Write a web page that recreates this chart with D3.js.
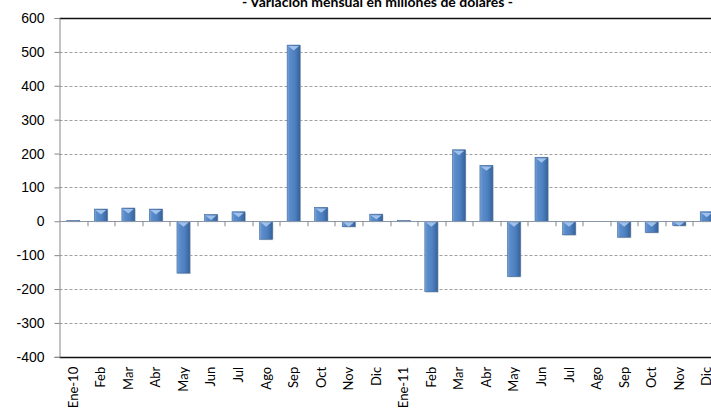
<!DOCTYPE html>
<html>
<head>
<meta charset="utf-8">
<script src="https://cdn.jsdelivr.net/npm/d3@7"></script>
<style>
  body { margin: 0; background: #fff; }
  svg { display: block; font-family: Lato, "Open Sans", sans-serif; }
  .tick text { fill: #000; }
</style>
</head>
<body>
<div id="chart"></div>
<script>
// meses (2010 - 2011)
var labels = ["Ene-10", "Feb", "Mar", "Abr", "May", "Jun", "Jul", "Ago", "Sep", "Oct", "Nov", "Dic",
              "Ene-11", "Feb", "Mar", "Abr", "May", "Jun", "Jul", "Ago", "Sep", "Oct", "Nov", "Dic"];
var values = [2, 36, 39, 36, -153, 20, 28, -53, 520, 41, -16, 21,
              2, -208, 211, 165, -163, 189, -40, 0, -47, -33, -13, 28];
var yTicks = [-400, -300, -200, -100, 0, 100, 200, 300, 400, 500, 600];
var title = "- Variación mensual en millones de dólares -";

drawChart();

function drawChart() {

	var W = 711, H = 412;
	var margin = {top: 18, left: 59.5},
		width = 661,
		height = 338.8;

	var svg = d3.select("#chart").append("svg")
		.attr("width", W)
		.attr("height", H);

	var defs = svg.append("defs");
	var grad = defs.append("linearGradient")
		.attr("id", "barGrad")
		.attr("x1", "0").attr("x2", "1").attr("y1", "0").attr("y2", "0");
	grad.append("stop").attr("offset", "0").attr("stop-color", "#7ea8dc");
	grad.append("stop").attr("offset", "0.18").attr("stop-color", "#5b8ccb");
	grad.append("stop").attr("offset", "0.6").attr("stop-color", "#4e80bf");
	grad.append("stop").attr("offset", "1").attr("stop-color", "#34629c");

	var x = d3.scaleBand()
		.domain(d3.range(labels.length))
		.range([0, width])
		.paddingInner(0.53)
		.paddingOuter(0.265);

	var y = d3.scaleLinear()
		.domain([-400, 600])
		.range([height, 0]);

	var g = svg.append("g")
		.attr("transform", "translate(" + margin.left + "," + margin.top + ")");

	// lineas de division
	g.append("g")
		.selectAll("line")
		.data(yTicks.filter(function(d) { return d != 0 && d != 600 && d != -400; }))
		.enter().append("line")
		.attr("x1", 0).attr("x2", width)
		.attr("y1", function(d) { return Math.round(y(d)) + 0.5; })
		.attr("y2", function(d) { return Math.round(y(d)) + 0.5; })
		.attr("stroke", "#a0a0a0")
		.attr("stroke-dasharray", "3,2");

	// borde superior e inferior
	g.append("line")
		.attr("x1", 0).attr("x2", width)
		.attr("y1", Math.round(y(600)) + 0.5).attr("y2", Math.round(y(600)) + 0.5)
		.attr("stroke", "#111").attr("stroke-width", 1.3);
	g.append("line")
		.attr("x1", 0).attr("x2", width)
		.attr("y1", Math.round(y(-400)) + 0.5).attr("y2", Math.round(y(-400)) + 0.5)
		.attr("stroke", "#111").attr("stroke-width", 1.3);

	// eje Y
	var yAxis = g.append("g")
		.call(d3.axisLeft(y).tickValues(yTicks).tickSize(5).tickPadding(10)
			.tickFormat(function(d) { return String(d); }));
	yAxis.select(".domain").attr("stroke", "#868686");
	yAxis.selectAll(".tick line").attr("stroke", "#868686");
	yAxis.selectAll(".tick text").style("font-size", "14px");

	// sombra de barras
	g.append("g")
		.selectAll("rect")
		.data(values)
		.enter().append("rect")
		.attr("x", function(d, i) { return x(i) + 1; })
		.attr("y", function(d) { return Math.min(y(d), y(0)) + 1; })
		.attr("width", x.bandwidth())
		.attr("height", function(d) { return Math.abs(y(d) - y(0)); })
		.attr("fill", "#c9c9c9")
		.attr("opacity", 0.7);

	// barras
	var bars = g.append("g")
		.selectAll("g")
		.data(values)
		.enter().append("g");

	bars.append("rect")
		.attr("x", function(d, i) { return x(i); })
		.attr("y", function(d) { return Math.min(y(d), y(0)); })
		.attr("width", x.bandwidth())
		.attr("height", function(d) { return Math.abs(y(d) - y(0)); })
		.attr("fill", "url(#barGrad)")
		.attr("stroke", "#3a6497")
		.attr("stroke-width", 0.6);

	// bisel superior
	bars.append("path")
		.attr("d", function(d, i) {
			var top = Math.min(y(d), y(0));
			var h = Math.abs(y(d) - y(0));
			var bw = x.bandwidth();
			var t = Math.min(bw * 0.42, h);
			var x0 = x(i), x1 = x(i) + bw;
			if (h < 1) return "";
			return "M" + (x0 + 1) + "," + (top + 1) + "L" + (x1 - 1) + "," + (top + 1) +
				"L" + (x0 + bw / 2) + "," + (top + t) + "Z";
		})
		.attr("fill", "#a9c8ee")
		.attr("opacity", 0.9);

	// linea cero
	g.append("line")
		.attr("x1", 0).attr("x2", width)
		.attr("y1", Math.round(y(0)) + 0.5).attr("y2", Math.round(y(0)) + 0.5)
		.attr("stroke", "#8a97a8");

	// marcas del eje X
	g.append("g")
		.selectAll("line")
		.data(d3.range(1, labels.length))
		.enter().append("line")
		.attr("x1", function(i) { return Math.round(x(i) - x.step() * x.paddingInner() / 2) + 0.5; })
		.attr("x2", function(i) { return Math.round(x(i) - x.step() * x.paddingInner() / 2) + 0.5; })
		.attr("y1", y(0))
		.attr("y2", y(0) + 5)
		.attr("stroke", "#868686");

	// etiquetas del eje X
	g.append("g")
		.selectAll("text")
		.data(labels)
		.enter().append("text")
		.attr("transform", function(d, i) {
			return "translate(" + (x(i) + x.bandwidth() / 2 + 4.5) + "," + (height + 10) + ") rotate(-90)";
		})
		.attr("text-anchor", "end")
		.style("font-size", "13px")
		.text(function(d) { return d; });

	// titulo
	svg.append("text")
		.attr("x", 377.5)
		.attr("y", 7)
		.attr("text-anchor", "middle")
		.style("font-size", "14px")
		.style("font-weight", "bold")
		.text(title);
}
</script>
</body>
</html>
